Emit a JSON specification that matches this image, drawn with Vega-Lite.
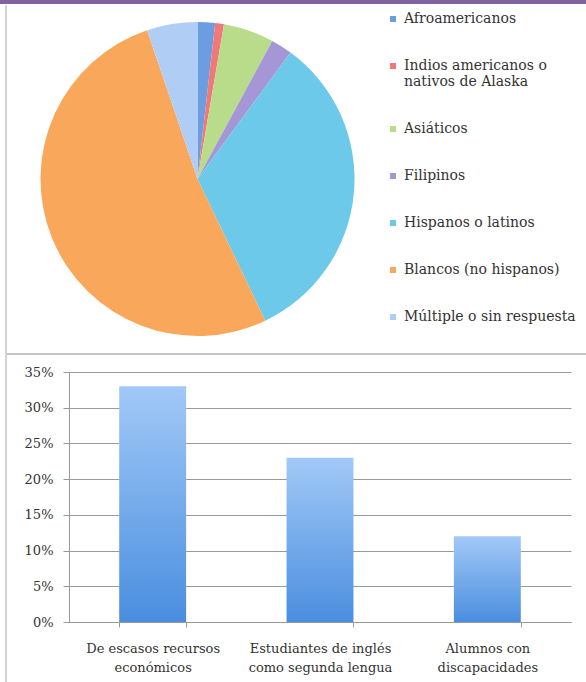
{
  "$schema": "https://vega.github.io/schema/vega-lite/v6.json",
  "padding": 0,
  "background": "white",
  "config": {"view": {"stroke": null}, "font": "DejaVu Serif"},
  "datasets": {
    "etnias": [
      {"grupo": "Afroamericanos", "porcentaje": 1.8, "orden": 1},
      {"grupo": "Indios americanos o nativos de Alaska", "porcentaje": 0.9, "orden": 2},
      {"grupo": "Asiáticos", "porcentaje": 5.2, "orden": 3},
      {"grupo": "Filipinos", "porcentaje": 2.2, "orden": 4},
      {"grupo": "Hispanos o latinos", "porcentaje": 32.8, "orden": 5},
      {"grupo": "Blancos (no hispanos)", "porcentaje": 51.9, "orden": 6},
      {"grupo": "Múltiple o sin respuesta", "porcentaje": 5.2, "orden": 7}
    ],
    "programas": [
      {"programa": "De escasos recursos\neconómicos", "porcentaje": 0.33},
      {"programa": "Estudiantes de inglés\ncomo segunda lengua", "porcentaje": 0.23},
      {"programa": "Alumnos con\ndiscapacidades", "porcentaje": 0.12}
    ],
    "marco": [{"elemento": "borde"}]
  },
  "columns": 1,
  "align": "none",
  "spacing": 0,
  "concat": [
    {
      "width": 586,
      "height": 4,
      "data": {"name": "marco"},
      "mark": {"type": "rect", "color": "#8064a2"},
      "encoding": {}
    },
    {
      "spacing": 0,
      "hconcat": [
        {
          "width": 6,
          "height": 678,
          "data": {"name": "marco"},
          "mark": {"type": "rule", "color": "#c4c4c4", "strokeWidth": 1.5},
          "encoding": {"x": {"value": "width"}}
        },
        {
          "columns": 1,
          "align": "none",
          "spacing": 0,
          "concat": [
            {
              "width": 381,
              "height": 348,
              "data": {"name": "etnias"},
              "mark": {"type": "arc", "outerRadius": 157},
              "encoding": {
                "theta": {"field": "porcentaje", "type": "quantitative", "stack": true},
                "order": {"field": "orden", "type": "quantitative"},
                "color": {
                  "field": "grupo",
                  "type": "nominal",
                  "sort": null,
                  "scale": {
                    "domain": ["Afroamericanos", "Indios americanos o nativos de Alaska", "Asiáticos", "Filipinos", "Hispanos o latinos", "Blancos (no hispanos)", "Múltiple o sin respuesta"],
                    "range": ["#6c9de0", "#f07878", "#b8dc8a", "#a596d6", "#6cc9ea", "#f9a75a", "#b0cdf5"]
                  },
                  "legend": {
                    "title": null,
                    "orient": "none",
                    "legendX": 386,
                    "legendY": 12,
                    "symbolType": "square",
                    "symbolSize": 36,
                    "symbolStrokeWidth": 0,
                    "labelOffset": 4,
                    "labelFont": "DejaVu Serif",
                    "labelFontSize": 14,
                    "labelColor": "#333333",
                    "labelLimit": 300,
                    "rowPadding": 33,
                    "labelExpr": "datum.label == 'Indios americanos o nativos de Alaska' ? ['Indios americanos o', 'nativos de Alaska'] : datum.label"
                  }
                }
              }
            },
            {
              "columns": 1,
              "align": "none",
              "spacing": 11,
              "concat": [
                {
                  "width": 579,
                  "height": 2,
                  "data": {"name": "marco"},
                  "mark": {"type": "rect", "color": "#c4c4c4"},
                  "encoding": {}
                },
                {
                  "spacing": 0,
                  "hconcat": [
                    {
                      "width": 17,
                      "height": 1,
                      "data": {"values": []},
                      "mark": "rect",
                      "encoding": {}
                    },
                    {
                      "width": 502,
                      "height": 250,
                      "data": {"name": "programas"},
                      "mark": {
                        "type": "bar",
                        "color": {
                          "gradient": "linear",
                          "x1": 0, "y1": 0, "x2": 0, "y2": 1,
                          "stops": [
                            {"offset": 0, "color": "#a2c9f7"},
                            {"offset": 1, "color": "#4a8edf"}
                          ]
                        }
                      },
                      "encoding": {
                        "x": {
                          "field": "programa",
                          "type": "nominal",
                          "sort": null,
                          "scale": {"paddingInner": 0.6, "paddingOuter": 0.3},
                          "axis": {
                            "title": null,
                            "labelAngle": 0,
                            "tickBand": "extent",
                            "labelExpr": "split(datum.label, '\\n')",
                            "labelFontSize": 13,
                            "labelColor": "#333333",
                            "labelPadding": 15,
                            "labelLineHeight": 19,
                            "labelLimit": 300,
                            "domainColor": "#999999",
                            "tickColor": "#999999",
                            "tickSize": 5
                          }
                        },
                        "y": {
                          "field": "porcentaje",
                          "type": "quantitative",
                          "scale": {"domain": [0, 0.35]},
                          "axis": {
                            "title": null,
                            "format": ".0%",
                            "values": [0, 0.05, 0.1, 0.15, 0.2, 0.25, 0.3, 0.35],
                            "gridColor": "#9a9a9a",
                            "domainColor": "#999999",
                            "tickColor": "#999999",
                            "tickSize": 6,
                            "labelPadding": 10,
                            "labelFontSize": 13,
                            "labelColor": "#333333"
                          }
                        }
                      }
                    }
                  ]
                }
              ]
            }
          ]
        }
      ]
    }
  ]
}
